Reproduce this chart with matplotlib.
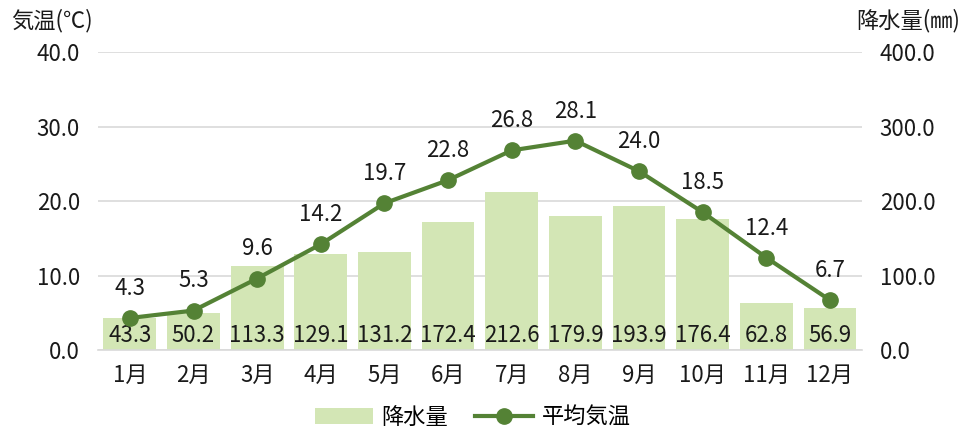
import numpy as np
import matplotlib.pyplot as plt
from matplotlib.lines import Line2D
from matplotlib.patches import Patch

plt.rcParams['font.family'] = ['Noto Sans CJK JP', 'DejaVu Sans']

months = ["1月", "2月", "3月", "4月", "5月", "6月", "7月", "8月", "9月", "10月", "11月", "12月"]
temp = [4.3, 5.3, 9.6, 14.2, 19.7, 22.8, 26.8, 28.1, 24.0, 18.5, 12.4, 6.7]
precip = [43.3, 50.2, 113.3, 129.1, 131.2, 172.4, 212.6, 179.9, 193.9, 176.4, 62.8, 56.9]

bar_color = "#D3E6B5"
line_color = "#548235"
text_color = "#1a1a1a"
fs = 16

fig = plt.figure(figsize=(9.65, 4.37), dpi=100)
ax = fig.add_axes([0.1016, 0.199, 0.7914, 0.682])
x = np.arange(len(months))

# 降水量 (右軸)
ax.bar(x, precip, width=0.83, color=bar_color, zorder=2)
ax.set_ylim(0, 400)
ax.set_xlim(-0.5, len(months) - 0.5)
ax.grid(axis="y", color="#D9D9D9", linewidth=1.2, zorder=0)
ax.set_axisbelow(True)
for s in ["top", "left", "right"]:
    ax.spines[s].set_visible(False)
ax.spines["bottom"].set_color("#D9D9D9")
ax.spines["bottom"].set_linewidth(1.2)
ax.set_xticks(x)
ax.set_xticklabels(months)

for xi, v in zip(x, precip):
    ax.text(xi, 4, f"{v:.1f}", ha="center", va="bottom", fontsize=fs, color=text_color, zorder=5)

# 平均気温 (左軸)
ax2 = ax.twinx()
ax2.plot(x, temp, color=line_color, linewidth=3, marker="o", markersize=11, zorder=4)
ax2.set_ylim(0, 40)
for s in ["top", "left", "right", "bottom"]:
    ax2.spines[s].set_visible(False)

# 軸の左右を入れ替え
ax.yaxis.tick_right()
ax2.yaxis.tick_left()
ax.set_yticks(np.arange(0, 401, 100))
ax.set_yticklabels([f"{v:.1f}" for v in np.arange(0, 401, 100)])
ax2.set_yticks(np.arange(0, 41, 10))
ax2.set_yticklabels([f"{v:.1f}" for v in np.arange(0, 41, 10)])
ax.tick_params(axis="both", length=0, labelsize=fs, colors=text_color)
ax.tick_params(axis="y", pad=13)
ax.tick_params(axis="x", pad=10)
ax2.tick_params(axis="y", length=0, labelsize=fs, colors=text_color, pad=13)

for xi, v in zip(x, temp):
    ax2.annotate(f"{v:.1f}", (xi, v), xytext=(0, 13), textcoords="offset points",
                 ha="center", va="bottom", fontsize=fs, color=text_color)

fig.text(0.012, 0.952, "気温(℃)", fontsize=fs, ha="left", va="center", color=text_color)
fig.text(0.995, 0.952, "降水量(㎜)", fontsize=fs, ha="right", va="center", color=text_color)

handles = [Patch(facecolor=bar_color, edgecolor="none"),
           Line2D([0], [0], color=line_color, linewidth=3, marker="o", markersize=11)]
fig.legend(handles, ["降水量", "平均気温"], loc="center", bbox_to_anchor=(0.49, 0.045),
           ncol=2, frameon=False, fontsize=fs, handlelength=2.6, columnspacing=1.2,
           handletextpad=0.4)

fig.savefig("out.png", dpi=100)
